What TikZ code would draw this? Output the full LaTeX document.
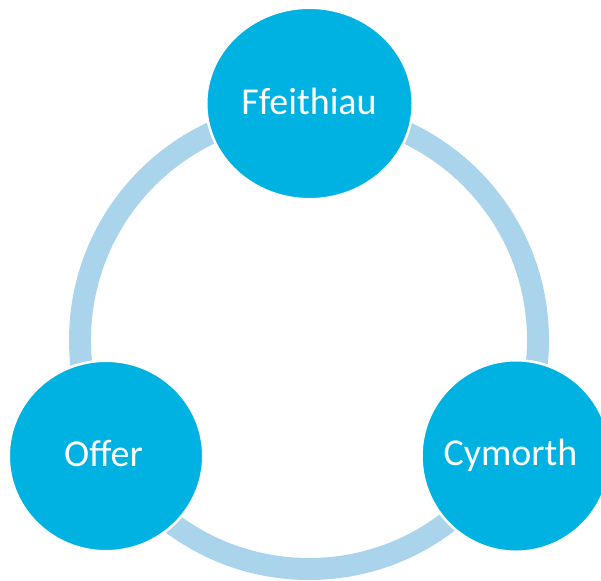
\documentclass[tikz,border=0pt]{standalone}
\usepackage{fontspec}
\setmainfont{Carlito}
\usetikzlibrary{shapes.geometric}
\definecolor{hub}{RGB}{0,178,226}
\definecolor{track}{RGB}{170,212,236}
\tikzset{
  hubdisc/.style={ellipse, fill=hub, draw=white, line width=2.5pt, inner sep=0pt},
  hubtext/.style={anchor=base, text=white, font=\fontsize{38}{44}\selectfont, inner sep=0pt},
  ring/.style={draw=track, line width=22pt}
}
\begin{document}
\begin{tikzpicture}[x=1pt,y=-1pt]
  \useasboundingbox (0,0) rectangle (601,580);
  % the cycle track behind the three discs
  \coordinate (hubcentre) at (309,340);
  \draw[ring] (hubcentre) circle[radius=229pt];
  % the three discs
  \node[hubdisc, minimum width=206.5pt, minimum height=191.5pt] (ffeithiau) at (309.5,103.5) {};
  \node[hubdisc, minimum width=194.5pt, minimum height=190.5pt] (offer) at (106,456) {};
  \node[hubdisc, minimum width=189pt, minimum height=191.5pt] (cymorth) at (516,456) {};
  % labels
  \node[hubtext] (tffeithiau) at (309,115) {Ffeithiau};
  \node[hubtext] (toffer) at (103.5,466) {Offer};
  \node[hubtext] (tcymorth) at (510.5,465) {Cymorth};
\end{tikzpicture}
\end{document}
